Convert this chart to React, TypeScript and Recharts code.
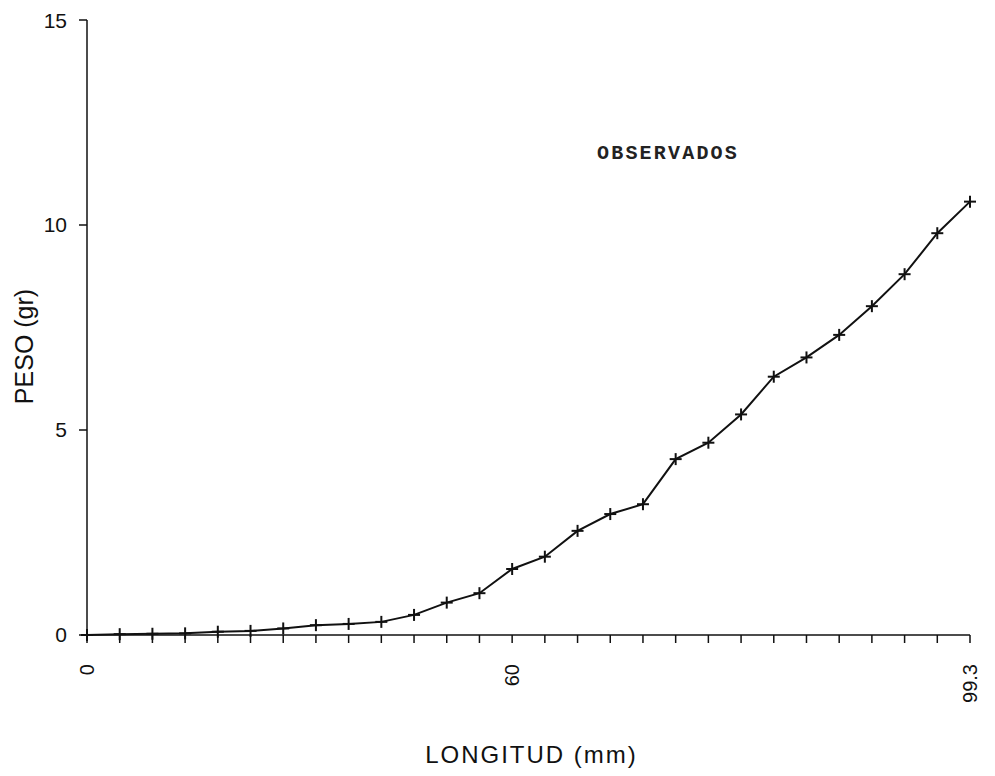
import React from "react";
import { LineChart, Line, XAxis, YAxis } from "recharts";

// peso (gr) por punto
const PESO = [
    0, 0.02, 0.03, 0.04, 0.08, 0.1, 0.16, 0.24, 0.27, 0.32, 0.49, 0.79, 1.02, 1.61,
    1.91, 2.54, 2.95, 3.19, 4.29, 4.69, 5.38, 6.3, 6.77, 7.32, 8.02, 8.8, 9.8, 10.57,
];

// etiquetas del eje x (solo se rotulan tres marcas)
const LONGITUD_LABELS = [
    "0", "", "", "", "", "", "", "", "", "", "", "", "", "60",
    "", "", "", "", "", "", "", "", "", "", "", "", "", "99.3",
];

const Y_TICKS = [0, 5, 10, 15];

const data = PESO.map((peso, i) => ({ i, peso }));
const xTicks = LONGITUD_LABELS.map((_, i) => i);

const FONT = "'Liberation Sans', Arial, sans-serif";

const PlusDot = (props: any) => {
    const { cx, cy, index } = props;
    if (cx == null || cy == null) return null;
    return (
        <g key={`dot-${index}`}>
            <line x1={cx - 6} y1={cy} x2={cx + 6} y2={cy} stroke="#111" strokeWidth={2} />
            <line x1={cx} y1={cy - 6} x2={cx} y2={cy + 6} stroke="#111" strokeWidth={2} />
        </g>
    );
};

const XTick = (props: any) => {
    const { x, y, payload } = props;
    const label = LONGITUD_LABELS[payload.value];
    if (!label) return null;
    return (
        <g transform={`translate(${x},${y})`}>
            <text
                transform="rotate(-90)"
                textAnchor="end"
                dy="0.35em"
                fontSize={20}
                fontFamily={FONT}
                fill="#111"
            >
                {label}
            </text>
        </g>
    );
};

const XTitle = (props: any) => {
    const { viewBox } = props;
    return (
        <text
            x={viewBox.x + viewBox.width / 2 + 3}
            y={viewBox.y + viewBox.height - 5}
            textAnchor="middle"
            fontSize={24}
            fontFamily={FONT}
            fill="#111"
            letterSpacing={2}
        >
            LONGITUD (mm)
        </text>
    );
};

const YTitle = (props: any) => {
    const { viewBox } = props;
    const cx = viewBox.x + 16;
    const cy = viewBox.y + viewBox.height / 2 + 19;
    return (
        <text
            x={cx}
            y={cy}
            transform={`rotate(-90, ${cx}, ${cy})`}
            textAnchor="middle"
            dy="0.35em"
            fontSize={25}
            fontFamily={FONT}
            fill="#111"
        >
            PESO (gr)
        </text>
    );
};

export default function App() {
    return (
        <div style={{ width: 979, height: 760, background: "#fff" }}>
            <LineChart
                width={979}
                height={760}
                data={data}
                margin={{ top: 12, right: 17, left: 0, bottom: 0 }}
            >
                <XAxis
                    dataKey="i"
                    type="number"
                    domain={[0, PESO.length - 1]}
                    ticks={xTicks}
                    interval={0}
                    height={133}
                    tickSize={8}
                    tickMargin={21}
                    tick={<XTick />}
                    axisLine={{ stroke: "#111", strokeWidth: 1.5 }}
                    tickLine={{ stroke: "#111", strokeWidth: 1.5 }}
                    label={<XTitle />}
                />
                <YAxis
                    type="number"
                    domain={[0, 15]}
                    ticks={Y_TICKS}
                    width={79}
                    tickSize={8}
                    tickMargin={12}
                    tick={{ fontSize: 21, fontFamily: FONT, fill: "#111" }}
                    axisLine={{ stroke: "#111", strokeWidth: 1.5 }}
                    tickLine={{ stroke: "#111", strokeWidth: 1.5 }}
                    label={<YTitle />}
                />
                <Line
                    type="linear"
                    dataKey="peso"
                    stroke="#111"
                    strokeWidth={2}
                    dot={<PlusDot />}
                    activeDot={false}
                    isAnimationActive={false}
                />
                <text
                    x={589}
                    y={151}
                    fontSize={20}
                    fontWeight="bold"
                    fontFamily="'Liberation Mono', 'DejaVu Sans Mono', monospace"
                    fill="#222"
                    letterSpacing={2.2}
                >
                    OBSERVADOS
                </text>
            </LineChart>
        </div>
    );
}
